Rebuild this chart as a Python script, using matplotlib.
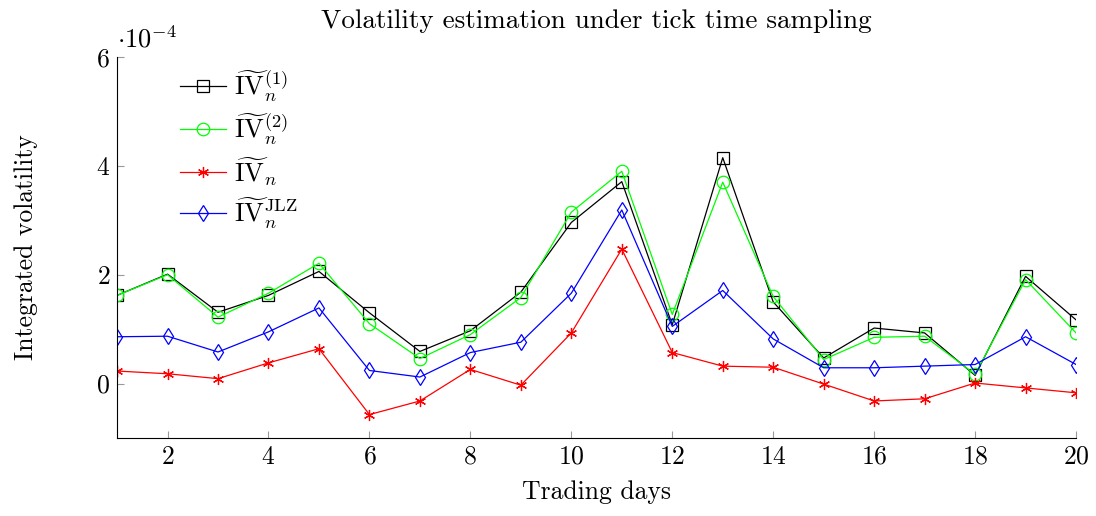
import matplotlib
matplotlib.use("Agg")
import matplotlib.pyplot as plt

plt.rcParams["font.family"] = "serif"
plt.rcParams["font.serif"] = ["cmr10"]
plt.rcParams["mathtext.fontset"] = "cm"
plt.rcParams["axes.formatter.use_mathtext"] = True

# trading days and volatility estimates (in units of 1e-4)
days = list(range(1, 21))
iv1 = [1.62, 2.01, 1.31, 1.62, 2.06, 1.30, 0.59, 0.97, 1.68, 2.96,
       3.71, 1.08, 4.15, 1.50, 0.47, 1.02, 0.93, 0.15, 1.97, 1.17]
iv2 = [1.62, 2.00, 1.22, 1.66, 2.21, 1.10, 0.46, 0.90, 1.58, 3.15,
       3.90, 1.27, 3.70, 1.60, 0.44, 0.85, 0.87, 0.17, 1.91, 0.93]
iv = [0.23, 0.18, 0.09, 0.38, 0.64, -0.57, -0.32, 0.26, -0.03, 0.93,
      2.47, 0.57, 0.32, 0.30, -0.01, -0.32, -0.28, 0.01, -0.08, -0.17]
iv_jlz = [0.86, 0.87, 0.58, 0.95, 1.39, 0.24, 0.12, 0.57, 0.76, 1.66,
          3.19, 1.05, 1.71, 0.82, 0.29, 0.29, 0.32, 0.35, 0.86, 0.35]

labels = [r"$\widetilde{\mathrm{IV}}_n^{(1)}$",
          r"$\widetilde{\mathrm{IV}}_n^{(2)}$",
          r"$\widetilde{\mathrm{IV}}_n$",
          r"$\widetilde{\mathrm{IV}}_n^{\mathrm{JLZ}}$"]

fig = plt.figure(figsize=(10.96, 5.16), dpi=100)
ax = fig.add_axes([0.1068, 0.1512, 0.875, 0.7383])

lw = 0.9
ax.plot(days, iv1, color="black", lw=lw, marker="s", ms=8, mfc="none", mew=0.9, label=labels[0])
ax.plot(days, iv2, color="#00ff00", lw=lw, marker="o", ms=9, mfc="none", mew=0.9, label=labels[1])
ax.plot(days, iv, color="red", lw=lw, marker=(6, 2, 0), ms=8, mew=0.9, label=labels[2])
ax.plot(days, iv_jlz, color="blue", lw=lw, marker="d", ms=8.5, mfc="none", mew=0.9, label=labels[3])

ax.set_xlim(1, 20)
ax.set_ylim(-1, 6)
ax.set_xticks([2, 4, 6, 8, 10, 12, 14, 16, 18, 20])
ax.set_yticks([0, 2, 4, 6])
ax.spines["top"].set_visible(False)
ax.spines["right"].set_visible(False)
ax.tick_params(direction="in", length=5, width=0.8, color="#999999", labelsize=18.5, pad=5)

ax.text(0.0, 1.012, r"$\cdot 10^{-4}$", transform=ax.transAxes, fontsize=19, ha="left", va="bottom")

ax.set_title("Volatility estimation under tick time sampling", fontsize=19.5, pad=21)
ax.set_xlabel("Trading days", fontsize=18.5, labelpad=8)
ax.set_ylabel("Integrated volatility", fontsize=18.5, labelpad=42)

ax.legend(loc="upper left", bbox_to_anchor=(0.049, 1.01), frameon=False, fontsize=19,
          handlelength=1.75, handletextpad=0.3, labelspacing=0.3, borderaxespad=0.2)

fig.savefig("out.png", dpi=100)
